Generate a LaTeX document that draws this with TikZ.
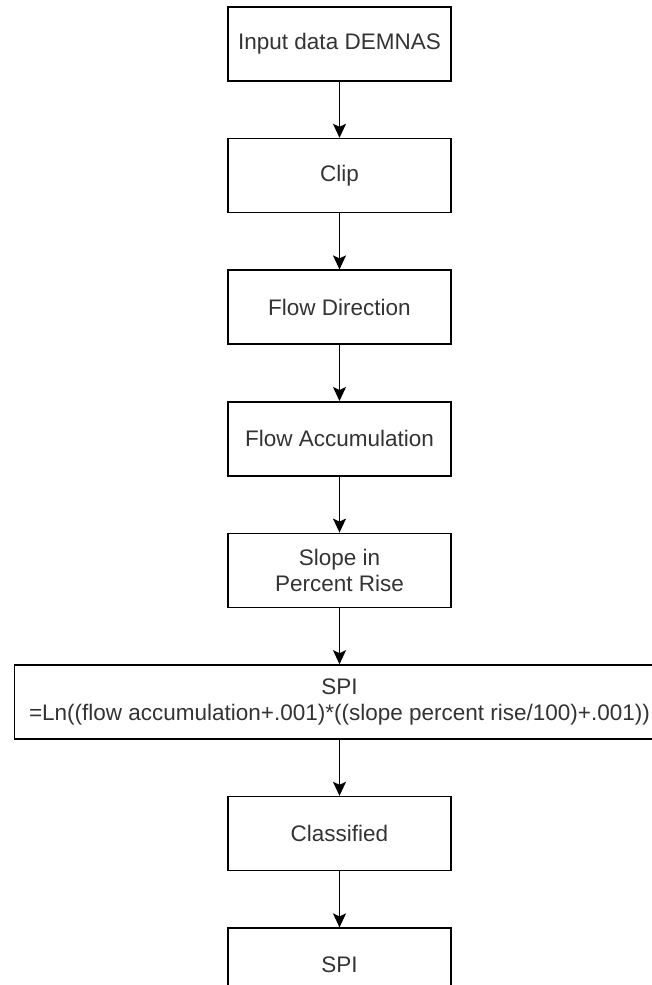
\documentclass[tikz,border=0pt]{standalone}
\usepackage{fontspec}
\setmainfont{Liberation Sans}
\usetikzlibrary{positioning, arrows.meta}
\tikzset{
node distance=56pt, % gap between two boxes
every node/.style={text=black!80, font=\fontsize{22.5}{26.5}\selectfont}, % sets the text of all boxes
process/.style={draw, line width=1.6pt, minimum width=223pt, minimum height=74pt, inner sep=0pt, align=center}, % one step of the workflow
flow/.style={-{Stealth[length=14pt, width=13pt, inset=3pt]}, line width=1.6pt}, % connector between two steps
}
\begin{document}
\begin{tikzpicture}

            \clip (0pt,0pt) rectangle (652pt,-985pt);

            \node[process] (input) at (339.5pt,-44pt) {Input data DEMNAS};
            \node[process, below=of input] (clip) {Clip};
            \node[process, below=of clip] (flowdir) {Flow Direction};
            \node[process, below=of flowdir] (flowacc) {Flow Accumulation};
            \node[process, below=of flowacc] (slope) {Slope in\\Percent Rise};
            \node[process, below=of slope, minimum width=650pt] (formula) {SPI\\=Ln((flow accumulation+.001)*((slope percent rise/100)+.001))};
            \node[process, below=of formula] (classified) {Classified};
            \node[process, below=of classified] (spi) {SPI};

            \path   (input) edge[flow] (clip)
                    (clip) edge[flow] (flowdir)
                    (flowdir) edge[flow] (flowacc)
                    (flowacc) edge[flow] (slope)
                    (slope) edge[flow] (formula)
                    (formula) edge[flow] (classified)
                    (classified) edge[flow] (spi)
                    ;
        \end{tikzpicture}
\end{document}
